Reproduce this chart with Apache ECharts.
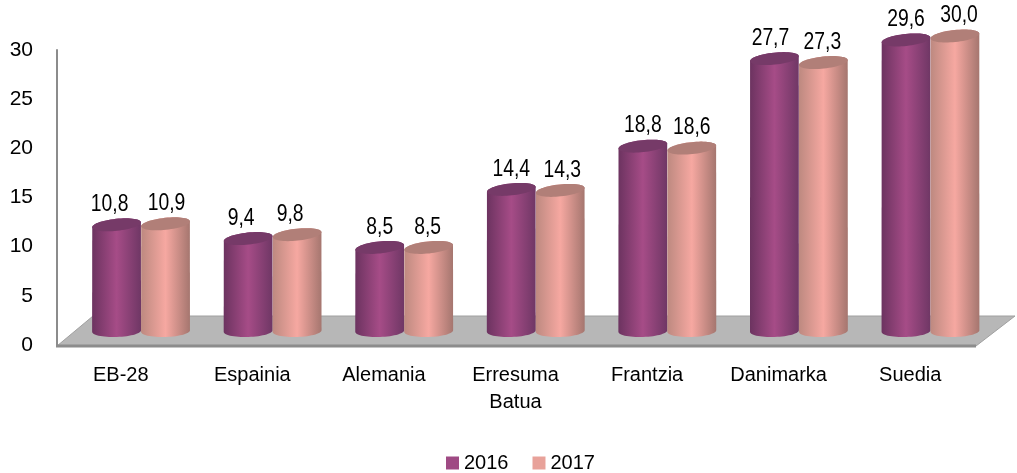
<!DOCTYPE html>
<html>
<head>
<meta charset="utf-8">
<style>html,body{margin:0;padding:0;background:#fff}#chart{width:1017px;height:473px}</style>
<script src="https://cdn.jsdelivr.net/npm/echarts@6/dist/echarts.min.js"></script>
</head>
<body>
<div id="chart"></div>
<script>
var categories = ['EB-28', 'Espainia', 'Alemania', 'Erresuma\nBatua', 'Frantzia', 'Danimarka', 'Suedia'];
var values2016 = [10.8, 9.4, 8.5, 14.4, 18.8, 27.7, 29.6];
var values2017 = [10.9, 9.8, 8.5, 14.3, 18.6, 27.3, 30.0];
var yTicks = { min: 0, max: 30, interval: 5 };

// the labels were placed by hand in the original, so they are not quite centred
var labelShift2016 = [-7, -7, 0, 0, 0, -4, 0];
var labelShift2017 = [1, -7, -1, 2, 0, -1, 4];

var chart = echarts.init(document.getElementById('chart'));
var font = '"Liberation Sans", Arial, sans-serif';

function gradient(edgeL, mid, edgeR) {
    return {
        type: 'linear', x: 0, y: 0, x2: 1, y2: 0,
        colorStops: [
            { offset: 0, color: edgeL },
            { offset: 0.5, color: mid },
            { offset: 1, color: edgeR }
        ]
    };
}

// points on a slightly tilted ellipse, t in degrees
function arc(cx, cy, rx, ry, tiltDeg, from, to) {
    var tilt = tiltDeg * Math.PI / 180, pts = [];
    for (var t = from; (to > from ? t <= to : t >= to); t += (to > from ? 6 : -6)) {
        var a = t * Math.PI / 180;
        var ex = rx * Math.cos(a), ey = ry * Math.sin(a);
        pts.push([cx + ex * Math.cos(tilt) - ey * Math.sin(tilt),
                  cy + ex * Math.sin(tilt) + ey * Math.cos(tilt)]);
    }
    return pts;
}

function cylinder(side, body, top, shifts) {
    return function (params, api) {
        var i = api.value(0), v = api.value(1);
        var band = api.size([1, 0])[0];
        var p = api.coord([i, v]), base = api.coord([i, 0]);
        var rx = band * 0.186;
        var cx = p[0] + band * 0.154 + side * rx;
        var topY = p[1] - 14, baseY = base[1] - 14;
        var outline = arc(cx, baseY, rx, 6, -2, 180, 0).concat(arc(cx, topY, rx, 6, -6, 0, -180));
        return {
            type: 'group',
            children: [
                { type: 'polygon', shape: { points: outline }, style: { fill: body } },
                { type: 'polygon', shape: { points: arc(cx, topY, rx, 6, -6, 0, 360) }, style: { fill: top } },
                {
                    type: 'text',
                    x: cx + shifts[i], y: topY - 20,
                    scaleX: 0.84,
                    style: {
                        x: 0, y: 0,
                        text: v.toFixed(1).replace('.', ','),
                        font: '23px ' + font, fill: '#000',
                        align: 'center', verticalAlign: 'middle'
                    }
                }
            ]
        };
    };
}

function toPairs(values) {
    return values.map(function (v, i) { return [i, v]; });
}

var option = {
    animation: false,
    backgroundColor: '#fff',
    textStyle: { fontFamily: font },
    graphic: [
        {
            type: 'polygon', z: -1, silent: true,
            shape: { points: [[57, 346], [976, 346], [1015, 316], [93, 316]] },
            style: { fill: '#b7b7b7', stroke: '#a0a0a0', lineWidth: 1 }
        },
        {
            type: 'line', z: -1, silent: true,
            shape: { x1: 56, y1: 346, x2: 976, y2: 346 },
            style: { stroke: '#8c8c8c', lineWidth: 3 }
        }
    ],
    grid: { left: 55, width: 921, top: 50, height: 295 },
    legend: {
        top: 448, left: 441,
        icon: 'rect', itemWidth: 13, itemHeight: 13, itemGap: 24,
        textStyle: { fontSize: 20, color: '#000', fontFamily: font, padding: [2, 0, 0, 0] },
        data: ['2016', '2017']
    },
    xAxis: {
        type: 'category',
        data: categories,
        axisLine: { show: false },
        axisTick: { show: false },
        axisLabel: { fontSize: 20, color: '#000', margin: 17, lineHeight: 27, interval: 0 }
    },
    yAxis: {
        type: 'value',
        min: yTicks.min, max: yTicks.max, interval: yTicks.interval,
        offset: -2,
        splitLine: { show: false },
        axisTick: { show: false },
        axisLine: { show: true, lineStyle: { color: '#8c8c8c', width: 2 } },
        axisLabel: { fontSize: 21, color: '#000', margin: 24, padding: [3, 0, 0, 0] }
    },
    series: [
        {
            name: '2016', type: 'custom', clip: false,
            itemStyle: { color: '#9f4a84' },
            encode: { x: 0, y: 1 },
            renderItem: cylinder(-1, gradient('#6c3360', '#a64c87', '#6f3765'), '#763a68', labelShift2016),
            data: toPairs(values2016)
        },
        {
            name: '2017', type: 'custom', clip: false,
            itemStyle: { color: '#e8a29a' },
            encode: { x: 0, y: 1 },
            renderItem: cylinder(1, gradient('#bd8980', '#f6a8a1', '#a5766f'), '#b17f78', labelShift2017),
            data: toPairs(values2017)
        }
    ]
};

chart.setOption(option);
</script>
</body>
</html>
